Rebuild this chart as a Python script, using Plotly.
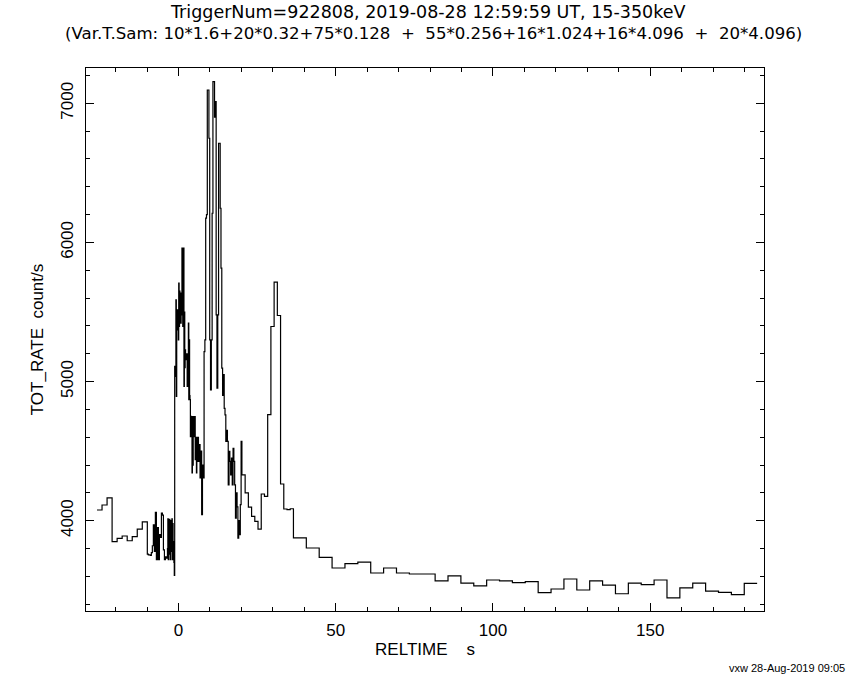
import plotly.graph_objects as go
import numpy as np

# ---- data ----
t_start = -25.9
seg_counts = [10, 20, 75, 55, 16, 16, 20]
seg_widths = [1.6, 0.32, 0.128, 0.256, 1.024, 4.096, 4.096]

rate_1p6 = [4077, 4113, 4164, 3849, 3873, 3890, 3856, 3885, 3940, 3991]
rate_0p32 = [3760, 3754, 3754, 3750, 3770, 3820, 3970, 3780, 4060, 3720,
             3950, 3720, 3900, 3880, 4055, 4040, 3790, 3720, 3740, 3730]
rate_0p128 = [3800, 4014, 3720, 3950, 3760, 4010, 3850, 3720, 4000, 3780,
              3900, 4014, 3720, 3980, 3750, 3850, 3700, 3607,
              5109, 5037, 5109, 5588, 4893, 5400, 5516, 5372, 5450, 5300,
              5708, 5396, 5650, 5450, 5636, 5420, 5550, 5480, 5960, 5700,
              5396, 5850, 5960, 4965, 5500, 5100, 5228, 5157, 5200, 5160,
              5200, 4965, 5100, 5000, 5420, 4870, 5300, 4900, 4870, 4605,
              4750, 4650, 4749, 4343, 4600, 4400, 4749, 4605, 4700, 4650,
              4749, 4438, 4600, 4500, 4343, 4600, 4426]
rate_0p256 = [4600, 4426, 4547, 4307, 4500, 4043, 4400, 4307, 5216, 5300,
              6175, 6200, 7096, 7096, 6749, 5300, 4941, 5300, 6210, 7156,
              7156, 6900, 7012, 5480, 4953, 5480, 6713, 6713, 6246, 5815,
              5097, 4900, 5050, 4808, 4760, 4570, 4650, 4570, 4258, 4498,
              4426, 4330, 4450, 4258, 4520, 4426, 4258, 4019, 4200, 4100,
              3875, 4000, 3900, 4115, 4570]
rate_1p024 = [4330, 4200, 4098, 4031, 3995, 3940, 4192, 4175, 4762, 5396,
              5715, 5475, 4264, 4084, 4079, 4086]
rate_4p096_a = [3876, 3804, 3737, 3660, 3691, 3703, 3624, 3660, 3624, 3617,
                3617, 3567, 3603, 3552, 3531, 3574]
rate_4p096_b = [3567, 3555, 3562, 3483, 3509, 3581, 3502, 3567, 3537, 3475,
                3552, 3540, 3574, 3445, 3517, 3552, 3494, 3485, 3468, 3550]

title_1 = "TriggerNum=922808, 2019-08-28 12:59:59 UT, 15-350keV"
title_2 = ("(Var.T.Sam: 10*1.6+20*0.32+75*0.128\u00a0\u00a0+\u00a0\u00a0"
           "55*0.256+16*1.024+16*4.096\u00a0\u00a0+\u00a0\u00a020*4.096)")
x_title = "RELTIME\u00a0\u00a0\u00a0\u00a0s"
y_title = "TOT_RATE\u00a0\u00a0count/s"
stamp = "vxw 28-Aug-2019 09:05"

# ---- build step histogram ----
segments = [rate_1p6, rate_0p32, rate_0p128, rate_0p256, rate_1p024, rate_4p096_a, rate_4p096_b]
widths = []
rates = []
for seg, n, w in zip(segments, seg_counts, seg_widths):
    assert len(seg) == n, (len(seg), n)
    widths += [w] * n
    rates += list(seg)
edges = t_start + np.concatenate([[0.0], np.cumsum(widths)])
xs = list(edges)
ys = rates + [rates[-1]]

FONT = "Liberation Sans"
TFONT = "DejaVu Sans"
fig = go.Figure()
fig.add_trace(go.Scatter(x=xs, y=ys, mode="lines", line=dict(shape="hv", color="black", width=1.2),
                         hoverinfo="skip", showlegend=False))

axis_common = dict(showline=True, linecolor="black", linewidth=1, mirror="allticks",
                   ticks="inside", ticklen=8, tickcolor="black", tickwidth=1,
                   showgrid=False, zeroline=False, automargin=False,
                   tickfont=dict(family=FONT, size=17, color="black"))
fig.update_xaxes(range=[-29.4, 186.2], tick0=0, dtick=50,
                 minor=dict(ticks="inside", ticklen=4, dtick=10, tick0=0, tickcolor="black"),
                 title=dict(text=x_title, font=dict(family=FONT, size=17, color="black"), standoff=3),
                 ticklabelstandoff=4, **axis_common)
fig.update_yaxes(range=[3351, 7254], tick0=0, dtick=1000, tickangle=-90,
                 minor=dict(ticks="inside", ticklen=4, dtick=200, tick0=0, tickcolor="black"),
                 title=dict(text=y_title, font=dict(family=FONT, size=17, color="black"), standoff=10),
                 ticklabelstandoff=5, **axis_common)

def py2paper(py):
    return (611.3 - py) / (611.3 - 68.0)

def px2paper(px):
    return (px - 85.7) / (764.3 - 85.7)

fig.add_annotation(text=title_1, xref="paper", yref="paper", x=px2paper(428), y=py2paper(12),
                   xanchor="center", yanchor="middle", showarrow=False,
                   font=dict(family=TFONT, size=17.5, color="black"))
fig.add_annotation(text=title_2, xref="paper", yref="paper", x=px2paper(434), y=py2paper(33),
                   xanchor="center", yanchor="middle", showarrow=False,
                   font=dict(family=TFONT, size=16.6, color="black"))
fig.add_annotation(text=stamp, xref="paper", yref="paper", x=px2paper(847), y=py2paper(668),
                   xanchor="right", yanchor="middle", showarrow=False,
                   font=dict(family=FONT, size=11, color="black"))

fig.update_layout(width=850, height=680, autosize=False,
                  margin=dict(l=85.7, r=850 - 764.3, t=68, b=680 - 611.3),
                  paper_bgcolor="white", plot_bgcolor="white")
# remove the default 8px page margin so the figure sits at the window's corner
fig.write_html("out.html", config={"displayModeBar": False},
               post_script="document.body.style.margin='0';document.body.style.overflow='hidden';")
